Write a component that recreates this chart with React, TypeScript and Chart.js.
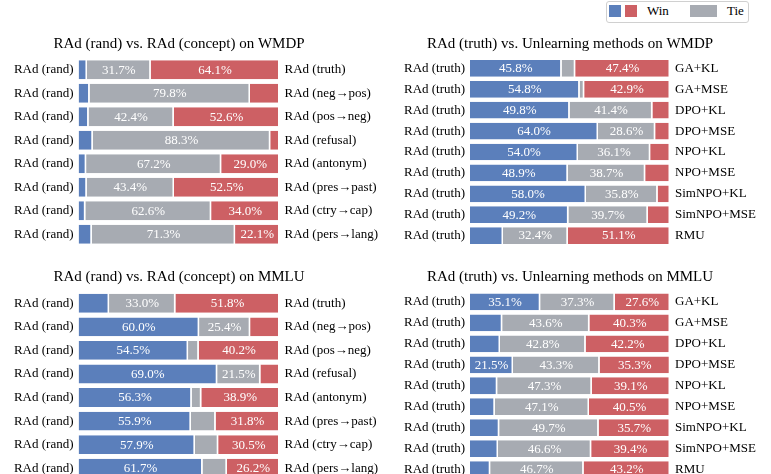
import React, { useEffect, useRef } from "react";
import { Chart, registerables } from "chart.js";

Chart.register(...registerables);

const FONT = '"Liberation Serif", "Times New Roman", Times, serif';
const BLUE = "#5b7fbb";
const GRAY = "#a7abb2";
const RED = "#cd6064";

// Categories
const randLabels = ["RAd (rand)", "RAd (rand)", "RAd (rand)", "RAd (rand)", "RAd (rand)", "RAd (rand)", "RAd (rand)", "RAd (rand)"];
const conceptLabels = ["RAd (truth)", "RAd (neg→pos)", "RAd (pos→neg)", "RAd (refusal)", "RAd (antonym)", "RAd (pres→past)", "RAd (ctry→cap)", "RAd (pers→lang)"];
const truthLabels = ["RAd (truth)", "RAd (truth)", "RAd (truth)", "RAd (truth)", "RAd (truth)", "RAd (truth)", "RAd (truth)", "RAd (truth)", "RAd (truth)"];
const methodLabels = ["GA+KL", "GA+MSE", "DPO+KL", "DPO+MSE", "NPO+KL", "NPO+MSE", "SimNPO+KL", "SimNPO+MSE", "RMU"];

// WMDP: RAd (rand) vs RAd (concept)
const wmdpConceptWin = [4.2, 5.5, 5.0, 7.1, 3.8, 4.1, 3.4, 6.6];
const wmdpConceptTie = [31.7, 79.8, 42.4, 88.3, 67.2, 43.4, 62.6, 71.3];
const wmdpConceptLose = [64.1, 14.7, 52.6, 4.6, 29.0, 52.5, 34.0, 22.1];

// MMLU: RAd (rand) vs RAd (concept)
const mmluConceptWin = [15.2, 60.0, 54.5, 69.0, 56.3, 55.9, 57.9, 61.7];
const mmluConceptTie = [33.0, 25.4, 5.3, 21.5, 4.8, 12.3, 11.6, 12.1];
const mmluConceptLose = [51.8, 14.6, 40.2, 9.5, 38.9, 31.8, 30.5, 26.2];

// WMDP: RAd (truth) vs unlearning methods
const wmdpMethodWin = [45.8, 54.8, 49.8, 64.0, 54.0, 48.9, 58.0, 49.2, 16.5];
const wmdpMethodTie = [6.8, 2.3, 41.4, 28.6, 36.1, 38.7, 35.8, 39.7, 32.4];
const wmdpMethodLose = [47.4, 42.9, 8.8, 7.4, 9.9, 12.4, 6.2, 11.1, 51.1];

// MMLU: RAd (truth) vs unlearning methods
const mmluMethodWin = [35.1, 16.1, 15.0, 21.5, 13.6, 12.4, 14.6, 14.0, 10.1];
const mmluMethodTie = [37.3, 43.6, 42.8, 43.3, 47.3, 47.1, 49.7, 46.6, 46.7];
const mmluMethodLose = [27.6, 40.3, 42.2, 35.3, 39.1, 40.5, 35.7, 39.4, 43.2];

const LABEL_MIN = 20;

const valueLabels = {
  id: "valueLabels",
  afterDatasetsDraw(chart: any) {
    const ctx = chart.ctx;
    ctx.save();
    ctx.font = `13px ${FONT}`;
    ctx.fillStyle = "#ffffff";
    ctx.textAlign = "center";
    ctx.textBaseline = "middle";
    chart.data.datasets.forEach((ds: any, i: number) => {
      const meta = chart.getDatasetMeta(i);
      meta.data.forEach((el: any, j: number) => {
        const v = ds.data[j];
        if (v >= LABEL_MIN) {
          const p = el.getProps(["x", "base", "y"], true);
          ctx.fillText(v.toFixed(1) + "%", (p.x + p.base) / 2, p.y + 0.5);
        }
      });
    });
    ctx.restore();
  },
};

type PanelProps = {
  left: number;
  top: number;
  width: number;
  height: number;
  leftW: number;
  rightW: number;
  titlePadBottom: number;
  title: string;
  leftLabels: string[];
  rightLabels: string[];
  win: number[];
  tie: number[];
  lose: number[];
};

function Panel(p: PanelProps) {
  const ref = useRef<HTMLCanvasElement>(null);
  useEffect(() => {
    const tickFont = { family: FONT, size: 13 };
    const mk = (label: string, data: number[], color: string) => ({
      label,
      data,
      backgroundColor: color,
      borderColor: "#ffffff",
      borderWidth: { top: 0, bottom: 0, left: 0, right: 1.5 },
      borderSkipped: "start",
      barPercentage: 0.8,
      categoryPercentage: 1,
      xAxisID: "x",
      yAxisID: "y",
    });
    const chart = new Chart(ref.current as HTMLCanvasElement, {
      type: "bar",
      data: {
        labels: p.leftLabels,
        datasets: [mk("Win", p.win, BLUE), mk("Tie", p.tie, GRAY), mk("Lose", p.lose, RED)] as any,
      },
      options: {
        indexAxis: "y",
        responsive: false,
        animation: false,
        layout: { padding: { top: 0, bottom: 16, left: 0, right: 0 } },
        scales: {
          x: { stacked: true, min: 0, max: 100, display: false },
          y: {
            stacked: true,
            position: "left",
            offset: true,
            grid: { display: false, drawTicks: false },
            border: { display: false },
            ticks: { padding: 5, color: "#000", font: tickFont, autoSkip: false },
            afterFit: (s: any) => {
              s.width = p.leftW;
            },
          },
          y2: {
            type: "category",
            axis: "y",
            labels: p.rightLabels,
            position: "right",
            offset: true,
            grid: { display: false, drawTicks: false, offset: true },
            border: { display: false },
            ticks: { padding: 5, color: "#000", font: tickFont, autoSkip: false },
            afterFit: (s: any) => {
              s.width = p.rightW;
            },
          },
        } as any,
        plugins: {
          legend: { display: false },
          tooltip: { enabled: false },
          title: {
            display: true,
            text: p.title,
            fullSize: true,
            color: "#000",
            font: { family: FONT, size: 15, weight: "normal" },
            padding: { top: 5, bottom: p.titlePadBottom },
          },
        },
      } as any,
      plugins: [valueLabels],
    });
    return () => chart.destroy();
  }, []);
  return (
    <canvas
      ref={ref}
      width={p.width}
      height={p.height}
      style={{ position: "absolute", left: p.left, top: p.top, width: p.width, height: p.height }}
    />
  );
}

function Legend() {
  const sw = (left: number, w: number, color: string) => (
    <div style={{ position: "absolute", left, top: 5, width: w, height: 12, background: color }} />
  );
  const txt = (left: number, s: string) => (
    <div style={{ position: "absolute", left, top: 3, fontFamily: FONT, fontSize: 13, lineHeight: "16px", color: "#000" }}>{s}</div>
  );
  return (
    <div>
      <div
        style={{
          position: "absolute",
          left: 606,
          top: 1,
          width: 141,
          height: 20,
          border: "1.5px solid #d0d0d0",
          borderRadius: 3,
          background: "#fff",
        }}
      />
      {sw(609, 12, BLUE)}
      {sw(625, 12, RED)}
      {txt(647, "Win")}
      {sw(690, 27, GRAY)}
      {txt(727, "Tie")}
    </div>
  );
}

export default function App() {
  return (
    <div style={{ position: "absolute", left: 0, top: 0, width: 771, height: 474, overflow: "hidden", background: "#fff" }}>
      <Panel
        left={-31.5}
        top={30}
        width={420}
        height={232}
        leftW={109.5}
        rightW={109.5}
        titlePadBottom={5}
        title="RAd (rand) vs. RAd (concept) on WMDP"
        leftLabels={randLabels}
        rightLabels={conceptLabels}
        win={wmdpConceptWin}
        tie={wmdpConceptTie}
        lose={wmdpConceptLose}
      />
      <Panel
        left={370}
        top={30}
        width={400}
        height={232}
        leftW={100}
        rightW={100}
        titlePadBottom={5}
        title="RAd (truth) vs. Unlearning methods on WMDP"
        leftLabels={truthLabels}
        rightLabels={methodLabels}
        win={wmdpMethodWin}
        tie={wmdpMethodTie}
        lose={wmdpMethodLose}
      />
      <Panel
        left={-31.5}
        top={263}
        width={420}
        height={233}
        leftW={109.5}
        rightW={109.5}
        titlePadBottom={5.5}
        title="RAd (rand) vs. RAd (concept) on MMLU"
        leftLabels={randLabels}
        rightLabels={conceptLabels}
        win={mmluConceptWin}
        tie={mmluConceptTie}
        lose={mmluConceptLose}
      />
      <Panel
        left={370}
        top={263}
        width={400}
        height={233}
        leftW={100}
        rightW={100}
        titlePadBottom={5.5}
        title="RAd (truth) vs. Unlearning methods on MMLU"
        leftLabels={truthLabels}
        rightLabels={methodLabels}
        win={mmluMethodWin}
        tie={mmluMethodTie}
        lose={mmluMethodLose}
      />
      <Legend />
    </div>
  );
}
